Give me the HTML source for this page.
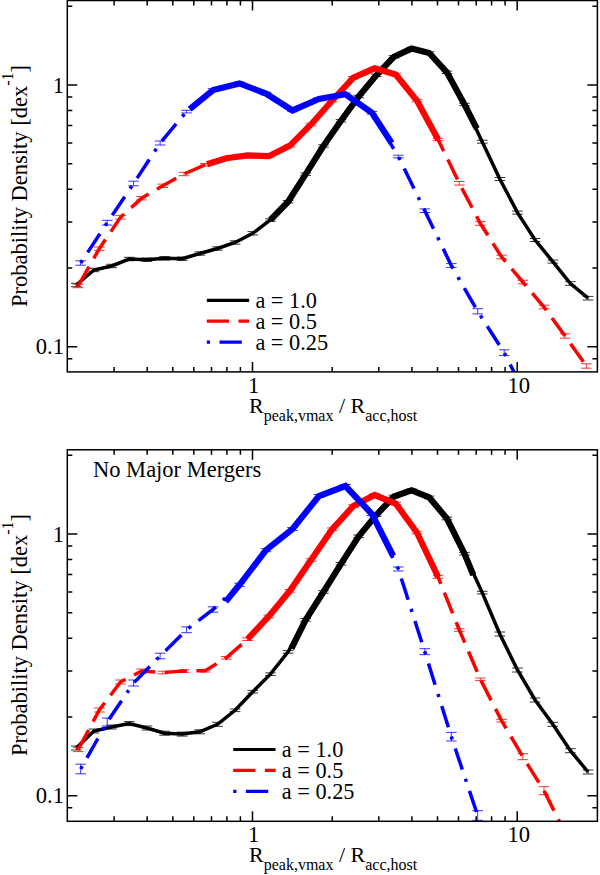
<!DOCTYPE html><html><head><meta charset="utf-8"><style>html,body{margin:0;padding:0;background:#fff}svg{display:block}</style></head><body>
<svg width="600" height="875" viewBox="0 0 600 875" style="font-family:'Liberation Serif',serif">
<rect width="600" height="875" fill="#fff"/>
<clipPath id="c0"><rect x="67.3" y="0.5" width="530.1" height="371.4"/></clipPath>
<g clip-path="url(#c0)" fill="none" stroke-linejoin="miter" stroke-linecap="butt">
<polyline points="76.3,285.0 93.9,270.0 111.6,266.0 129.2,259.0 146.9,259.7 164.5,258.3 182.2,258.7 199.8,253.5 217.5,248.5 235.1,242.5 252.8,233.3 270.4,220.0 288.1,201.7 305.7,174.2 323.4,146.0 341.0,120.8 358.7,96.5 376.3,75.3 393.9,56.8 411.6,48.6 429.2,53.0 446.9,72.3 464.5,104.5 482.2,141.7 499.8,179.0 517.5,212.6 535.1,240.0 552.8,261.6 570.4,283.5 588.1,298.2" stroke="#000" stroke-width="3.5"/>
<polyline points="270.4,220.0 288.1,201.7 305.7,174.2 323.4,146.0 341.0,120.8 358.7,96.5 376.3,75.3 393.9,56.8 411.6,48.6 429.2,53.0 446.9,72.3 464.5,104.5 476.8,128.6" stroke="#000" stroke-width="6.2"/>
<path d="M71.0 283.3h10.6M71.0 286.7h10.6M76.3 283.3v3.4" stroke="#000" stroke-width="0.8"/>
<path d="M88.6 268.3h10.6M88.6 271.7h10.6M93.9 268.3v3.4" stroke="#000" stroke-width="0.8"/>
<path d="M106.3 264.3h10.6M106.3 267.7h10.6M111.6 264.3v3.4" stroke="#000" stroke-width="0.8"/>
<path d="M123.9 257.3h10.6M123.9 260.7h10.6M129.2 257.3v3.4" stroke="#000" stroke-width="0.8"/>
<path d="M141.6 258.0h10.6M141.6 261.4h10.6M146.9 258.0v3.4" stroke="#000" stroke-width="0.8"/>
<path d="M159.2 256.6h10.6M159.2 260.0h10.6M164.5 256.6v3.4" stroke="#000" stroke-width="0.8"/>
<path d="M176.9 257.0h10.6M176.9 260.4h10.6M182.2 257.0v3.4" stroke="#000" stroke-width="0.8"/>
<path d="M194.5 251.8h10.6M194.5 255.2h10.6M199.8 251.8v3.4" stroke="#000" stroke-width="0.8"/>
<path d="M212.2 246.8h10.6M212.2 250.2h10.6M217.5 246.8v3.4" stroke="#000" stroke-width="0.8"/>
<path d="M229.8 240.8h10.6M229.8 244.2h10.6M235.1 240.8v3.4" stroke="#000" stroke-width="0.8"/>
<path d="M247.5 231.6h10.6M247.5 235.0h10.6M252.8 231.6v3.4" stroke="#000" stroke-width="0.8"/>
<path d="M265.1 218.8h10.6M265.1 221.2h10.6M270.4 218.8v2.4" stroke="#000" stroke-width="0.8"/>
<path d="M282.8 200.5h10.6M282.8 202.9h10.6M288.1 200.5v2.4" stroke="#000" stroke-width="0.8"/>
<path d="M300.4 173.0h10.6M300.4 175.4h10.6M305.7 173.0v2.4" stroke="#000" stroke-width="0.8"/>
<path d="M318.1 144.8h10.6M318.1 147.2h10.6M323.4 144.8v2.4" stroke="#000" stroke-width="0.8"/>
<path d="M335.7 119.6h10.6M335.7 122.0h10.6M341.0 119.6v2.4" stroke="#000" stroke-width="0.8"/>
<path d="M353.4 95.3h10.6M353.4 97.7h10.6M358.7 95.3v2.4" stroke="#000" stroke-width="0.8"/>
<path d="M371.0 74.1h10.6M371.0 76.5h10.6M376.3 74.1v2.4" stroke="#000" stroke-width="0.8"/>
<path d="M388.6 55.6h10.6M388.6 58.0h10.6M393.9 55.6v2.4" stroke="#000" stroke-width="0.8"/>
<path d="M406.3 47.4h10.6M406.3 49.8h10.6M411.6 47.4v2.4" stroke="#000" stroke-width="0.8"/>
<path d="M423.9 51.8h10.6M423.9 54.2h10.6M429.2 51.8v2.4" stroke="#000" stroke-width="0.8"/>
<path d="M441.6 71.1h10.6M441.6 73.5h10.6M446.9 71.1v2.4" stroke="#000" stroke-width="0.8"/>
<path d="M459.2 103.3h10.6M459.2 105.7h10.6M464.5 103.3v2.4" stroke="#000" stroke-width="0.8"/>
<path d="M476.9 140.2h10.6M476.9 143.2h10.6M482.2 140.2v3.0" stroke="#000" stroke-width="0.8"/>
<path d="M494.5 177.5h10.6M494.5 180.5h10.6M499.8 177.5v3.0" stroke="#000" stroke-width="0.8"/>
<path d="M512.2 211.1h10.6M512.2 214.1h10.6M517.5 211.1v3.0" stroke="#000" stroke-width="0.8"/>
<path d="M529.8 238.5h10.6M529.8 241.5h10.6M535.1 238.5v3.0" stroke="#000" stroke-width="0.8"/>
<path d="M547.5 260.1h10.6M547.5 263.1h10.6M552.8 260.1v3.0" stroke="#000" stroke-width="0.8"/>
<path d="M565.1 281.7h10.6M565.1 285.3h10.6M570.4 281.7v3.6" stroke="#000" stroke-width="0.8"/>
<path d="M582.8 296.4h10.6M582.8 300.0h10.6M588.1 296.4v3.6" stroke="#000" stroke-width="0.8"/>
<polyline points="78.1,286.0 99.3,248.7 120.5,217.3 141.6,198.2 162.8,185.8 184.0,174.0 205.2,164.8 226.3,158.3 247.5,155.4 268.7,156.2 289.9,145.6 311.0,124.5 332.2,100.5 353.4,77.7 374.6,68.3 395.7,74.5 416.9,100.5 438.1,139.5 459.3,183.3 480.4,223.5 501.6,257.0 522.8,282.0 544.0,307.0 565.1,336.0 586.3,366.0" stroke="#f00" stroke-width="3.5" stroke-dasharray="22.2 9.55"/>
<polyline points="207.0,164.2 226.3,158.3 247.5,155.4 268.7,156.2 289.9,145.6 311.0,124.5 332.2,100.5 353.4,77.7 374.6,68.3 395.7,74.5 416.9,100.5 438.1,139.5" stroke="#f00" stroke-width="6.2"/>
<path d="M72.8 284.3h10.6M72.8 287.7h10.6M78.1 284.3v3.4" stroke="#f00" stroke-width="0.8"/>
<path d="M94.0 247.0h10.6M94.0 250.4h10.6M99.3 247.0v3.4" stroke="#f00" stroke-width="0.8"/>
<path d="M115.2 215.6h10.6M115.2 219.0h10.6M120.5 215.6v3.4" stroke="#f00" stroke-width="0.8"/>
<path d="M136.3 196.5h10.6M136.3 199.9h10.6M141.6 196.5v3.4" stroke="#f00" stroke-width="0.8"/>
<path d="M157.5 184.1h10.6M157.5 187.5h10.6M162.8 184.1v3.4" stroke="#f00" stroke-width="0.8"/>
<path d="M178.7 172.3h10.6M178.7 175.7h10.6M184.0 172.3v3.4" stroke="#f00" stroke-width="0.8"/>
<path d="M199.9 163.6h10.6M199.9 166.0h10.6M205.2 163.6v2.4" stroke="#f00" stroke-width="0.8"/>
<path d="M221.0 157.1h10.6M221.0 159.5h10.6M226.3 157.1v2.4" stroke="#f00" stroke-width="0.8"/>
<path d="M242.2 154.2h10.6M242.2 156.6h10.6M247.5 154.2v2.4" stroke="#f00" stroke-width="0.8"/>
<path d="M263.4 155.0h10.6M263.4 157.4h10.6M268.7 155.0v2.4" stroke="#f00" stroke-width="0.8"/>
<path d="M284.6 144.4h10.6M284.6 146.8h10.6M289.9 144.4v2.4" stroke="#f00" stroke-width="0.8"/>
<path d="M305.7 123.3h10.6M305.7 125.7h10.6M311.0 123.3v2.4" stroke="#f00" stroke-width="0.8"/>
<path d="M326.9 99.3h10.6M326.9 101.7h10.6M332.2 99.3v2.4" stroke="#f00" stroke-width="0.8"/>
<path d="M348.1 76.5h10.6M348.1 78.9h10.6M353.4 76.5v2.4" stroke="#f00" stroke-width="0.8"/>
<path d="M369.3 67.1h10.6M369.3 69.5h10.6M374.6 67.1v2.4" stroke="#f00" stroke-width="0.8"/>
<path d="M390.4 73.3h10.6M390.4 75.7h10.6M395.7 73.3v2.4" stroke="#f00" stroke-width="0.8"/>
<path d="M411.6 99.3h10.6M411.6 101.7h10.6M416.9 99.3v2.4" stroke="#f00" stroke-width="0.8"/>
<path d="M432.8 138.3h10.6M432.8 140.7h10.6M438.1 138.3v2.4" stroke="#f00" stroke-width="0.8"/>
<path d="M454.0 181.5h10.6M454.0 185.1h10.6M459.3 181.5v3.6" stroke="#f00" stroke-width="0.8"/>
<path d="M475.1 221.7h10.6M475.1 225.3h10.6M480.4 221.7v3.6" stroke="#f00" stroke-width="0.8"/>
<path d="M496.3 255.2h10.6M496.3 258.8h10.6M501.6 255.2v3.6" stroke="#f00" stroke-width="0.8"/>
<path d="M517.5 280.2h10.6M517.5 283.8h10.6M522.8 280.2v3.6" stroke="#f00" stroke-width="0.8"/>
<path d="M538.7 305.2h10.6M538.7 308.8h10.6M544.0 305.2v3.6" stroke="#f00" stroke-width="0.8"/>
<path d="M559.8 333.8h10.6M559.8 338.2h10.6M565.1 333.8v4.4" stroke="#f00" stroke-width="0.8"/>
<path d="M581.0 363.8h10.6M581.0 368.2h10.6M586.3 363.8v4.4" stroke="#f00" stroke-width="0.8"/>
<polyline points="80.7,263.0 107.2,222.7 133.6,183.5 160.1,143.0 186.6,111.6 213.1,90.0 239.5,83.4 266.0,93.6 292.5,110.4 318.9,99.0 345.4,94.2 371.9,112.8 398.3,156.5 424.8,210.7 451.3,265.5 477.7,311.3 504.2,352.7 530.7,405.0" stroke="#00f" stroke-width="3.5" stroke-dasharray="3.2 9.5 22.3 9.6"/>
<polyline points="189.7,109.1 213.1,90.0 239.5,83.4 266.0,93.6 292.5,110.4 318.9,99.0 345.4,94.2 371.9,112.8 391.7,143.0" stroke="#00f" stroke-width="6.2"/>
<path d="M75.4 260.8h10.6M75.4 265.2h10.6M80.7 260.8v4.4" stroke="#00f" stroke-width="0.8"/>
<path d="M101.9 220.3h10.6M101.9 225.1h10.6M107.2 220.3v4.8" stroke="#00f" stroke-width="0.8"/>
<path d="M128.3 181.2h10.6M128.3 185.8h10.6M133.6 181.2v4.6" stroke="#00f" stroke-width="0.8"/>
<path d="M154.8 141.0h10.6M154.8 145.0h10.6M160.1 141.0v4.0" stroke="#00f" stroke-width="0.8"/>
<path d="M181.3 110.3h10.6M181.3 112.9h10.6M186.6 110.3v2.6" stroke="#00f" stroke-width="0.8"/>
<path d="M207.8 88.7h10.6M207.8 91.3h10.6M213.1 88.7v2.6" stroke="#00f" stroke-width="0.8"/>
<path d="M234.2 82.1h10.6M234.2 84.7h10.6M239.5 82.1v2.6" stroke="#00f" stroke-width="0.8"/>
<path d="M260.7 92.3h10.6M260.7 94.9h10.6M266.0 92.3v2.6" stroke="#00f" stroke-width="0.8"/>
<path d="M287.2 109.1h10.6M287.2 111.7h10.6M292.5 109.1v2.6" stroke="#00f" stroke-width="0.8"/>
<path d="M313.6 97.7h10.6M313.6 100.3h10.6M318.9 97.7v2.6" stroke="#00f" stroke-width="0.8"/>
<path d="M340.1 92.9h10.6M340.1 95.5h10.6M345.4 92.9v2.6" stroke="#00f" stroke-width="0.8"/>
<path d="M366.6 111.5h10.6M366.6 114.1h10.6M371.9 111.5v2.6" stroke="#00f" stroke-width="0.8"/>
<path d="M393.0 155.2h10.6M393.0 157.8h10.6M398.3 155.2v2.6" stroke="#00f" stroke-width="0.8"/>
<path d="M419.5 208.9h10.6M419.5 212.5h10.6M424.8 208.9v3.6" stroke="#00f" stroke-width="0.8"/>
<path d="M446.0 263.6h10.6M446.0 267.4h10.6M451.3 263.6v3.8" stroke="#00f" stroke-width="0.8"/>
<path d="M472.4 308.7h10.6M472.4 313.9h10.6M477.7 308.7v5.2" stroke="#00f" stroke-width="0.8"/>
<path d="M498.9 349.8h10.6M498.9 355.6h10.6M504.2 349.8v5.8" stroke="#00f" stroke-width="0.8"/>
<path d="M525.4 402.0h10.6M525.4 408.0h10.6M530.7 402.0v6.0" stroke="#00f" stroke-width="0.8"/>
</g>
<rect x="67.3" y="0.5" width="530.1" height="371.4" fill="none" stroke="#000" stroke-width="1.5"/>
<path d="M114.1 371.9v-5M114.1 0.5v5M147.2 371.9v-5M147.2 0.5v5M172.8 371.9v-5M172.8 0.5v5M193.8 371.9v-5M193.8 0.5v5M211.5 371.9v-5M211.5 0.5v5M226.9 371.9v-5M226.9 0.5v5M240.4 371.9v-5M240.4 0.5v5M252.5 371.9v-10M252.5 0.5v10M332.2 371.9v-5M332.2 0.5v5M378.8 371.9v-5M378.8 0.5v5M411.9 371.9v-5M411.9 0.5v5M437.5 371.9v-5M437.5 0.5v5M458.5 371.9v-5M458.5 0.5v5M476.2 371.9v-5M476.2 0.5v5M491.6 371.9v-5M491.6 0.5v5M505.1 371.9v-5M505.1 0.5v5M517.2 371.9v-10M517.2 0.5v10M67.3 358.8h5M597.4 358.8h-5M67.3 346.8h10M597.4 346.8h-10M67.3 268.0h5M597.4 268.0h-5M67.3 221.9h5M597.4 221.9h-5M67.3 189.2h5M597.4 189.2h-5M67.3 163.8h5M597.4 163.8h-5M67.3 143.1h5M597.4 143.1h-5M67.3 125.6h5M597.4 125.6h-5M67.3 110.4h5M597.4 110.4h-5M67.3 97.0h5M597.4 97.0h-5M67.3 85.0h10M597.4 85.0h-10M67.3 6.2h5M597.4 6.2h-5" stroke="#000" stroke-width="1.5" fill="none"/>
<text x="253.7" y="392.5" font-size="22.6" text-anchor="middle">1</text>
<text x="518.7" y="392.5" font-size="22.6" text-anchor="middle">10</text>
<text x="64" y="92.5" font-size="22.6" text-anchor="end">1</text>
<text x="64" y="354.3" font-size="22.6" text-anchor="end">0.1</text>
<text x="249" y="413.0" font-size="22">R<tspan font-size="16" dy="8">peak,vmax</tspan><tspan dy="-8"> / R</tspan><tspan font-size="16" dy="8">acc,host</tspan></text>
<text transform="translate(26.7,307.0) rotate(-90)" font-size="22.5">Probability Density [dex<tspan font-size="16" dy="-13.5">-1</tspan><tspan dy="13.5">]</tspan></text>
<clipPath id="c1"><rect x="67.3" y="449.8" width="530.1" height="371.49999999999994"/></clipPath>
<g clip-path="url(#c1)" fill="none" stroke-linejoin="miter" stroke-linecap="butt">
<polyline points="76.3,748.0 93.9,731.0 111.6,727.0 129.2,723.6 146.9,728.0 164.5,733.2 182.2,734.1 199.8,731.8 217.5,724.3 235.1,710.3 252.8,691.7 270.4,674.2 288.1,651.9 305.7,619.8 323.4,592.0 341.0,563.8 358.7,536.3 376.3,515.0 393.9,496.5 411.6,490.3 429.2,497.4 446.9,518.5 464.5,553.7 482.2,592.6 499.8,634.0 517.5,670.0 535.1,700.0 552.8,724.3 570.4,750.7 588.1,772.0" stroke="#000" stroke-width="3.5"/>
<polyline points="291.4,648.5 305.7,619.8 323.4,592.0 341.0,563.8 358.7,536.3 376.3,515.0 393.9,496.5 411.6,490.3 429.2,497.4 446.9,518.5 464.5,553.7 473.3,575.0" stroke="#000" stroke-width="6.2"/>
<path d="M71.0 746.0h10.6M71.0 750.0h10.6M76.3 746.0v4.0" stroke="#000" stroke-width="0.8"/>
<path d="M88.6 729.0h10.6M88.6 733.0h10.6M93.9 729.0v4.0" stroke="#000" stroke-width="0.8"/>
<path d="M106.3 725.0h10.6M106.3 729.0h10.6M111.6 725.0v4.0" stroke="#000" stroke-width="0.8"/>
<path d="M123.9 721.6h10.6M123.9 725.6h10.6M129.2 721.6v4.0" stroke="#000" stroke-width="0.8"/>
<path d="M141.6 726.0h10.6M141.6 730.0h10.6M146.9 726.0v4.0" stroke="#000" stroke-width="0.8"/>
<path d="M159.2 731.2h10.6M159.2 735.2h10.6M164.5 731.2v4.0" stroke="#000" stroke-width="0.8"/>
<path d="M176.9 732.1h10.6M176.9 736.1h10.6M182.2 732.1v4.0" stroke="#000" stroke-width="0.8"/>
<path d="M194.5 729.8h10.6M194.5 733.8h10.6M199.8 729.8v4.0" stroke="#000" stroke-width="0.8"/>
<path d="M212.2 722.3h10.6M212.2 726.3h10.6M217.5 722.3v4.0" stroke="#000" stroke-width="0.8"/>
<path d="M229.8 709.0h10.6M229.8 711.6h10.6M235.1 709.0v2.6" stroke="#000" stroke-width="0.8"/>
<path d="M247.5 690.4h10.6M247.5 693.0h10.6M252.8 690.4v2.6" stroke="#000" stroke-width="0.8"/>
<path d="M265.1 672.9h10.6M265.1 675.5h10.6M270.4 672.9v2.6" stroke="#000" stroke-width="0.8"/>
<path d="M282.8 650.6h10.6M282.8 653.2h10.6M288.1 650.6v2.6" stroke="#000" stroke-width="0.8"/>
<path d="M300.4 618.5h10.6M300.4 621.1h10.6M305.7 618.5v2.6" stroke="#000" stroke-width="0.8"/>
<path d="M318.1 590.7h10.6M318.1 593.3h10.6M323.4 590.7v2.6" stroke="#000" stroke-width="0.8"/>
<path d="M335.7 562.5h10.6M335.7 565.1h10.6M341.0 562.5v2.6" stroke="#000" stroke-width="0.8"/>
<path d="M353.4 535.0h10.6M353.4 537.6h10.6M358.7 535.0v2.6" stroke="#000" stroke-width="0.8"/>
<path d="M371.0 513.7h10.6M371.0 516.3h10.6M376.3 513.7v2.6" stroke="#000" stroke-width="0.8"/>
<path d="M388.6 495.2h10.6M388.6 497.8h10.6M393.9 495.2v2.6" stroke="#000" stroke-width="0.8"/>
<path d="M406.3 489.0h10.6M406.3 491.6h10.6M411.6 489.0v2.6" stroke="#000" stroke-width="0.8"/>
<path d="M423.9 496.1h10.6M423.9 498.7h10.6M429.2 496.1v2.6" stroke="#000" stroke-width="0.8"/>
<path d="M441.6 517.2h10.6M441.6 519.8h10.6M446.9 517.2v2.6" stroke="#000" stroke-width="0.8"/>
<path d="M459.2 552.4h10.6M459.2 555.0h10.6M464.5 552.4v2.6" stroke="#000" stroke-width="0.8"/>
<path d="M476.9 591.3h10.6M476.9 593.9h10.6M482.2 591.3v2.6" stroke="#000" stroke-width="0.8"/>
<path d="M494.5 632.0h10.6M494.5 636.0h10.6M499.8 632.0v4.0" stroke="#000" stroke-width="0.8"/>
<path d="M512.2 668.0h10.6M512.2 672.0h10.6M517.5 668.0v4.0" stroke="#000" stroke-width="0.8"/>
<path d="M529.8 698.0h10.6M529.8 702.0h10.6M535.1 698.0v4.0" stroke="#000" stroke-width="0.8"/>
<path d="M547.5 722.3h10.6M547.5 726.3h10.6M552.8 722.3v4.0" stroke="#000" stroke-width="0.8"/>
<path d="M565.1 748.7h10.6M565.1 752.7h10.6M570.4 748.7v4.0" stroke="#000" stroke-width="0.8"/>
<path d="M582.8 770.0h10.6M582.8 774.0h10.6M588.1 770.0v4.0" stroke="#000" stroke-width="0.8"/>
<polyline points="78.1,749.6 99.3,710.0 120.5,682.0 141.6,671.0 162.8,672.5 184.0,671.1 205.2,670.7 226.3,657.8 247.5,639.2 268.7,616.4 289.9,590.8 311.0,560.0 332.2,529.3 353.4,506.0 374.6,495.0 395.7,503.5 416.9,532.5 438.1,577.0 459.3,630.0 480.4,679.3 501.6,720.7 522.8,756.7 544.0,790.7 565.1,833.0" stroke="#f00" stroke-width="3.5" stroke-dasharray="22.2 9.55"/>
<polyline points="247.5,639.2 268.7,616.4 289.9,590.8 311.0,560.0 332.2,529.3 353.4,506.0 374.6,495.0 395.7,503.5 416.9,532.5 438.1,577.0" stroke="#f00" stroke-width="6.2"/>
<path d="M72.8 747.6h10.6M72.8 751.6h10.6M78.1 747.6v4.0" stroke="#f00" stroke-width="0.8"/>
<path d="M94.0 708.0h10.6M94.0 712.0h10.6M99.3 708.0v4.0" stroke="#f00" stroke-width="0.8"/>
<path d="M115.2 680.0h10.6M115.2 684.0h10.6M120.5 680.0v4.0" stroke="#f00" stroke-width="0.8"/>
<path d="M136.3 669.0h10.6M136.3 673.0h10.6M141.6 669.0v4.0" stroke="#f00" stroke-width="0.8"/>
<path d="M157.5 671.2h10.6M157.5 673.8h10.6M162.8 671.2v2.6" stroke="#f00" stroke-width="0.8"/>
<path d="M178.7 669.8h10.6M178.7 672.4h10.6M184.0 669.8v2.6" stroke="#f00" stroke-width="0.8"/>
<path d="M199.9 669.4h10.6M199.9 672.0h10.6M205.2 669.4v2.6" stroke="#f00" stroke-width="0.8"/>
<path d="M221.0 656.5h10.6M221.0 659.1h10.6M226.3 656.5v2.6" stroke="#f00" stroke-width="0.8"/>
<path d="M242.2 637.9h10.6M242.2 640.5h10.6M247.5 637.9v2.6" stroke="#f00" stroke-width="0.8"/>
<path d="M263.4 615.1h10.6M263.4 617.7h10.6M268.7 615.1v2.6" stroke="#f00" stroke-width="0.8"/>
<path d="M284.6 589.5h10.6M284.6 592.1h10.6M289.9 589.5v2.6" stroke="#f00" stroke-width="0.8"/>
<path d="M305.7 558.7h10.6M305.7 561.3h10.6M311.0 558.7v2.6" stroke="#f00" stroke-width="0.8"/>
<path d="M326.9 528.0h10.6M326.9 530.6h10.6M332.2 528.0v2.6" stroke="#f00" stroke-width="0.8"/>
<path d="M348.1 504.7h10.6M348.1 507.3h10.6M353.4 504.7v2.6" stroke="#f00" stroke-width="0.8"/>
<path d="M369.3 493.7h10.6M369.3 496.3h10.6M374.6 493.7v2.6" stroke="#f00" stroke-width="0.8"/>
<path d="M390.4 502.2h10.6M390.4 504.8h10.6M395.7 502.2v2.6" stroke="#f00" stroke-width="0.8"/>
<path d="M411.6 531.2h10.6M411.6 533.8h10.6M416.9 531.2v2.6" stroke="#f00" stroke-width="0.8"/>
<path d="M432.8 575.7h10.6M432.8 578.3h10.6M438.1 575.7v2.6" stroke="#f00" stroke-width="0.8"/>
<path d="M454.0 628.7h10.6M454.0 631.3h10.6M459.3 628.7v2.6" stroke="#f00" stroke-width="0.8"/>
<path d="M475.1 678.0h10.6M475.1 680.6h10.6M480.4 678.0v2.6" stroke="#f00" stroke-width="0.8"/>
<path d="M496.3 719.4h10.6M496.3 722.0h10.6M501.6 719.4v2.6" stroke="#f00" stroke-width="0.8"/>
<path d="M517.5 753.7h10.6M517.5 759.7h10.6M522.8 753.7v6.0" stroke="#f00" stroke-width="0.8"/>
<path d="M538.7 786.7h10.6M538.7 794.7h10.6M544.0 786.7v8.0" stroke="#f00" stroke-width="0.8"/>
<path d="M559.8 829.0h10.6M559.8 837.0h10.6M565.1 829.0v8.0" stroke="#f00" stroke-width="0.8"/>
<polyline points="80.7,769.0 107.2,722.0 133.6,683.0 160.1,656.0 186.6,629.8 213.1,609.5 239.5,584.8 266.0,550.2 292.5,529.0 318.9,496.0 345.4,486.0 371.9,514.0 398.3,569.0 424.8,651.7 451.3,736.7 477.7,815.5 504.2,895.0" stroke="#00f" stroke-width="3.5" stroke-dasharray="3.2 9.5 22.3 9.6"/>
<polyline points="225.7,601.6 239.5,584.8 266.0,550.2 292.5,529.0 318.9,496.0 345.4,486.0 371.9,514.0 393.2,556.0" stroke="#00f" stroke-width="6.2"/>
<path d="M75.4 764.2h10.6M75.4 773.8h10.6M80.7 764.2v9.6" stroke="#00f" stroke-width="0.8"/>
<path d="M101.9 718.0h10.6M101.9 726.0h10.6M107.2 718.0v8.0" stroke="#00f" stroke-width="0.8"/>
<path d="M128.3 680.0h10.6M128.3 686.0h10.6M133.6 680.0v6.0" stroke="#00f" stroke-width="0.8"/>
<path d="M154.8 653.2h10.6M154.8 658.8h10.6M160.1 653.2v5.6" stroke="#00f" stroke-width="0.8"/>
<path d="M181.3 626.9h10.6M181.3 632.7h10.6M186.6 626.9v5.8" stroke="#00f" stroke-width="0.8"/>
<path d="M207.8 606.8h10.6M207.8 612.2h10.6M213.1 606.8v5.4" stroke="#00f" stroke-width="0.8"/>
<path d="M234.2 583.3h10.6M234.2 586.3h10.6M239.5 583.3v3.0" stroke="#00f" stroke-width="0.8"/>
<path d="M260.7 548.7h10.6M260.7 551.7h10.6M266.0 548.7v3.0" stroke="#00f" stroke-width="0.8"/>
<path d="M287.2 527.5h10.6M287.2 530.5h10.6M292.5 527.5v3.0" stroke="#00f" stroke-width="0.8"/>
<path d="M313.6 494.5h10.6M313.6 497.5h10.6M318.9 494.5v3.0" stroke="#00f" stroke-width="0.8"/>
<path d="M340.1 484.5h10.6M340.1 487.5h10.6M345.4 484.5v3.0" stroke="#00f" stroke-width="0.8"/>
<path d="M366.6 512.5h10.6M366.6 515.5h10.6M371.9 512.5v3.0" stroke="#00f" stroke-width="0.8"/>
<path d="M393.0 567.0h10.6M393.0 571.0h10.6M398.3 567.0v4.0" stroke="#00f" stroke-width="0.8"/>
<path d="M419.5 648.7h10.6M419.5 654.7h10.6M424.8 648.7v6.0" stroke="#00f" stroke-width="0.8"/>
<path d="M446.0 732.4h10.6M446.0 741.0h10.6M451.3 732.4v8.6" stroke="#00f" stroke-width="0.8"/>
<path d="M472.4 810.7h10.6M472.4 820.3h10.6M477.7 810.7v9.6" stroke="#00f" stroke-width="0.8"/>
<path d="M498.9 889.5h10.6M498.9 900.5h10.6M504.2 889.5v11.0" stroke="#00f" stroke-width="0.8"/>
</g>
<rect x="67.3" y="449.8" width="530.1" height="371.49999999999994" fill="none" stroke="#000" stroke-width="1.5"/>
<path d="M114.1 821.3v-5M114.1 449.8v5M147.2 821.3v-5M147.2 449.8v5M172.8 821.3v-5M172.8 449.8v5M193.8 821.3v-5M193.8 449.8v5M211.5 821.3v-5M211.5 449.8v5M226.9 821.3v-5M226.9 449.8v5M240.4 821.3v-5M240.4 449.8v5M252.5 821.3v-10M252.5 449.8v10M332.2 821.3v-5M332.2 449.8v5M378.8 821.3v-5M378.8 449.8v5M411.9 821.3v-5M411.9 449.8v5M437.5 821.3v-5M437.5 449.8v5M458.5 821.3v-5M458.5 449.8v5M476.2 821.3v-5M476.2 449.8v5M491.6 821.3v-5M491.6 449.8v5M505.1 821.3v-5M505.1 449.8v5M517.2 821.3v-10M517.2 449.8v10M67.3 807.8h5M597.4 807.8h-5M67.3 795.8h10M597.4 795.8h-10M67.3 717.0h5M597.4 717.0h-5M67.3 670.9h5M597.4 670.9h-5M67.3 638.2h5M597.4 638.2h-5M67.3 612.8h5M597.4 612.8h-5M67.3 592.1h5M597.4 592.1h-5M67.3 574.6h5M597.4 574.6h-5M67.3 559.4h5M597.4 559.4h-5M67.3 546.0h5M597.4 546.0h-5M67.3 534.0h10M597.4 534.0h-10M67.3 455.2h5M597.4 455.2h-5" stroke="#000" stroke-width="1.5" fill="none"/>
<text x="253.7" y="841.5" font-size="22.6" text-anchor="middle">1</text>
<text x="518.7" y="841.5" font-size="22.6" text-anchor="middle">10</text>
<text x="64" y="541.5" font-size="22.6" text-anchor="end">1</text>
<text x="64" y="803.3" font-size="22.6" text-anchor="end">0.1</text>
<text x="249" y="862.0" font-size="22">R<tspan font-size="16" dy="8">peak,vmax</tspan><tspan dy="-8"> / R</tspan><tspan font-size="16" dy="8">acc,host</tspan></text>
<text transform="translate(26.7,756.0) rotate(-90)" font-size="22.5">Probability Density [dex<tspan font-size="16" dy="-13.5">-1</tspan><tspan dy="13.5">]</tspan></text>
<line x1="206.8" y1="300.3" x2="249.20000000000002" y2="300.3" stroke="#000" stroke-width="3.2"/><line x1="206.8" y1="321.2" x2="249.20000000000002" y2="321.2" stroke="#f00" stroke-width="3.2" stroke-dasharray="22.2 9.5"/><line x1="206.8" y1="342.1" x2="249.20000000000002" y2="342.1" stroke="#00f" stroke-width="3.2" stroke-dasharray="3.2 9.5 22.3 9.5"/><text x="255.4" y="307.8" font-size="22.3">a = 1.0</text><text x="255.4" y="328.7" font-size="22.3">a = 0.5</text><text x="255.4" y="349.6" font-size="22.3">a = 0.25</text>
<line x1="233.2" y1="749.5" x2="275.59999999999997" y2="749.5" stroke="#000" stroke-width="3.2"/><line x1="233.2" y1="770.4" x2="275.59999999999997" y2="770.4" stroke="#f00" stroke-width="3.2" stroke-dasharray="22.2 9.5"/><line x1="233.2" y1="791.3" x2="275.59999999999997" y2="791.3" stroke="#00f" stroke-width="3.2" stroke-dasharray="3.2 9.5 22.3 9.5"/><text x="281.8" y="757.0" font-size="22.3">a = 1.0</text><text x="281.8" y="777.9" font-size="22.3">a = 0.5</text><text x="281.8" y="798.8" font-size="22.3">a = 0.25</text>
<text x="93" y="476.7" font-size="22.5">No Major Mergers</text>
</svg></body></html>
